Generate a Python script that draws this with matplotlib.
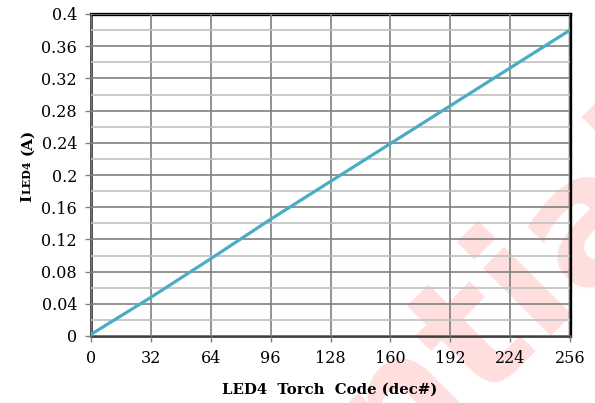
import matplotlib
matplotlib.use('Agg')
import matplotlib.pyplot as plt
import numpy as np
from matplotlib.ticker import MultipleLocator

# data
torch_code = [0, 32, 64, 96, 128, 160, 192, 224, 256]
i_led4 = [0.002, 0.048, 0.096, 0.145, 0.192, 0.239, 0.286, 0.333, 0.380]
xticks = [0, 32, 64, 96, 128, 160, 192, 224, 256]
yticks = [0, 0.04, 0.08, 0.12, 0.16, 0.2, 0.24, 0.28, 0.32, 0.36, 0.4]
ytick_labels = ['0', '0.04', '0.08', '0.12', '0.16', '0.2', '0.24', '0.28', '0.32', '0.36', '0.4']

W, H = 595, 403
fig = plt.figure(figsize=(W/100, H/100), dpi=100)
ax = fig.add_axes([91/W, 1-336/H, (570-91)/W, (336-14)/H])
ax.set_facecolor('none')

# faint watermark behind the chart (only its tail shows)
fig.text(706/W, 1-173/H, 'Confidential', rotation=45, fontsize=125, fontweight='bold',
         family='DejaVu Sans', color='#ffdede', ha='right', va='baseline', zorder=-1,
         rotation_mode='anchor')

ax.plot(torch_code, i_led4, color='#4bacc6', lw=2.3, zorder=3, solid_capstyle='round')

ax.set_xlim(0, 256)
ax.set_ylim(0, 0.4)
ax.set_xticks(xticks)
ax.set_xticklabels([str(t) for t in xticks])
ax.set_yticks(yticks)
ax.set_yticklabels(ytick_labels)
ax.yaxis.set_minor_locator(MultipleLocator(0.02))

ax.grid(which='major', color='#808080', lw=1.2)
ax.grid(which='minor', axis='y', color='#c0c0c0', lw=1.2)
ax.set_axisbelow(False)

for s in ['top', 'right']:
    ax.spines[s].set_color('black')
    ax.spines[s].set_linewidth(2.4)
for s in ['left', 'bottom']:
    ax.spines[s].set_color('#404040')
    ax.spines[s].set_linewidth(2.0)

ax.tick_params(which='major', direction='out', length=4, width=1, color='#808080',
               pad=6, labelsize=11.5)
ax.tick_params(which='minor', length=0)
for lab in ax.get_xticklabels() + ax.get_yticklabels():
    lab.set_family('DejaVu Serif')

fig.text(330/W, 1-394/H, 'LED4  Torch  Code (dec#)', family='DejaVu Serif',
         fontweight='bold', fontsize=10.7, ha='center', va='baseline')

# y label built from pieces: I + small caps LED4 + (A), chained bottom to top
fig.canvas.draw()
r = fig.canvas.get_renderer()
y = 1 - 202/H
for txt, fs, gap in [('I', 11, 1), ('LED4', 8, 5), ('(A)', 11, 0)]:
    t = fig.text(31/W, y, txt, family='DejaVu Serif', fontweight='bold', fontsize=fs,
                 rotation=90, rotation_mode='anchor', ha='left', va='baseline')
    bb = t.get_window_extent(r)
    y += (bb.height + gap) / H

fig.savefig('out.png', dpi=100)
